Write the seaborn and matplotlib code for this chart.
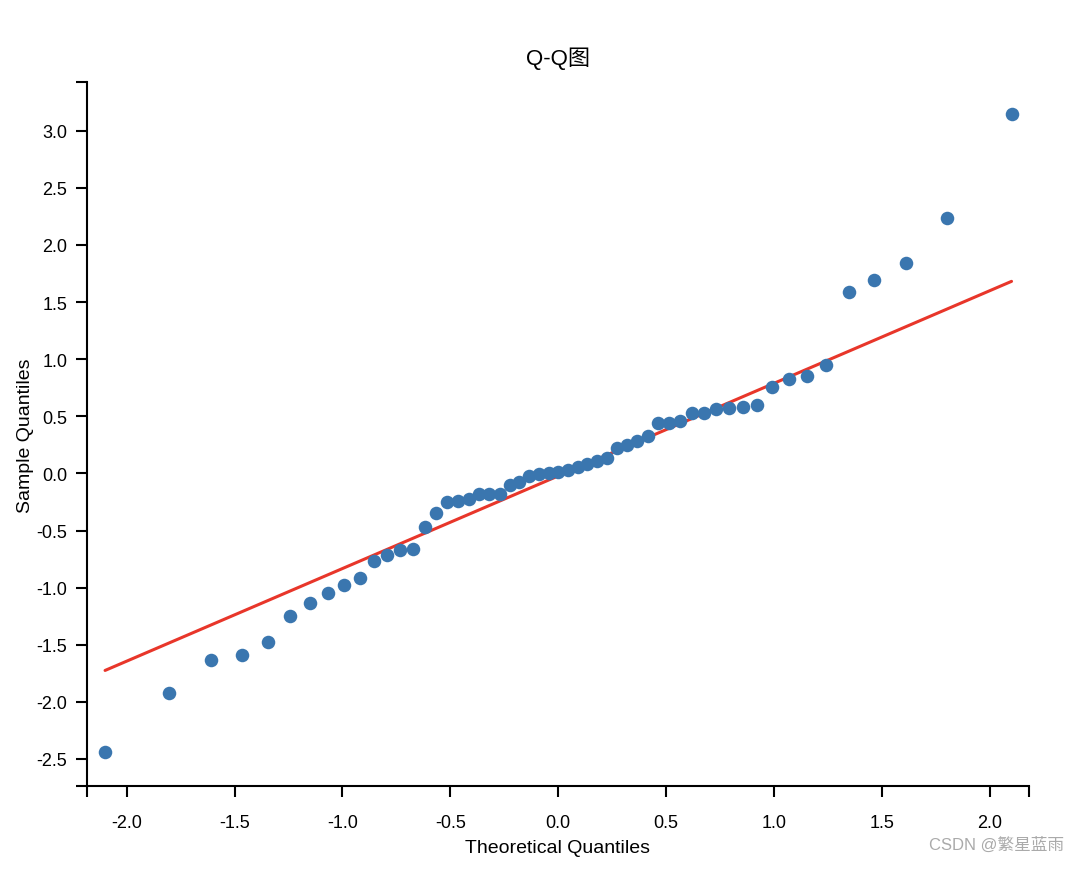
import numpy as np
import pandas as pd
import matplotlib
matplotlib.use("Agg")
import matplotlib.pyplot as plt
from matplotlib.ticker import FormatStrFormatter
import seaborn as sns

# theoretical normal quantiles (x) and sorted sample values (y)
theoretical = [
    -2.100, -1.803, -1.611, -1.465, -1.345, -1.242, -1.150, -1.068, -0.992, -0.921,
    -0.854, -0.792, -0.732, -0.674, -0.619, -0.566, -0.514, -0.464, -0.414, -0.366,
    -0.319, -0.272, -0.226, -0.180, -0.134, -0.090, -0.045, 0.000, 0.045, 0.090,
    0.134, 0.180, 0.226, 0.272, 0.319, 0.366, 0.414, 0.464, 0.514, 0.566,
    0.619, 0.674, 0.732, 0.792, 0.854, 0.921, 0.992, 1.068, 1.150, 1.242,
    1.345, 1.465, 1.611, 1.803, 2.100,
]
sample = [
    -2.44, -1.92, -1.63, -1.59, -1.475, -1.247, -1.134, -1.046, -0.976, -0.915,
    -0.765, -0.713, -0.669, -0.660, -0.468, -0.345, -0.249, -0.240, -0.222, -0.178,
    -0.178, -0.178, -0.100, -0.074, -0.021, -0.004, 0.005, 0.014, 0.030, 0.058,
    0.084, 0.110, 0.137, 0.220, 0.250, 0.285, 0.330, 0.443, 0.443, 0.460,
    0.530, 0.530, 0.566, 0.574, 0.583, 0.600, 0.757, 0.828, 0.855, 0.950,
    1.590, 1.695, 1.844, 2.237, 3.148,
]
# reference line: y = intercept + slope * x
fit_intercept = -0.022
fit_slope = 0.811

x_ticks = [-2.0, -1.5, -1.0, -0.5, 0.0, 0.5, 1.0, 1.5, 2.0]
y_ticks = [-2.5, -2.0, -1.5, -1.0, -0.5, 0.0, 0.5, 1.0, 1.5, 2.0, 2.5, 3.0]
x_range = (-2.185, 2.181)
y_range = (-2.739, 3.424)

df = pd.DataFrame({"theoretical": theoretical, "sample": sample})
line_x = np.array([min(theoretical), max(theoretical)])
line_df = pd.DataFrame({"x": line_x, "y": fit_intercept + fit_slope * line_x})

sns.set_style("ticks")
plt.rcParams["font.family"] = ["Liberation Sans", "Noto Sans CJK SC", "DejaVu Sans"]
plt.rcParams["axes.unicode_minus"] = False

fig = plt.figure(figsize=(10.8, 8.7), dpi=100)
ax = fig.add_axes([0.0803, 0.0951, 0.9528 - 0.0803, 0.9043 - 0.0951])

sns.lineplot(data=line_df, x="x", y="y", ax=ax, color="#e8362a",
             linewidth=2.2, zorder=2)
sns.scatterplot(data=df, x="theoretical", y="sample", ax=ax, color="#3a76af",
                s=95, linewidth=0, zorder=3)

ax.set_xlim(*x_range)
ax.set_ylim(*y_range)
ax.set_xticks(x_ticks)
ax.set_yticks(y_ticks)
# end ticks like a d3 axis domain
ax.set_xticks(list(x_range), minor=True)
ax.set_yticks(list(y_range), minor=True)
ax.xaxis.set_major_formatter(FormatStrFormatter("%.1f"))
ax.yaxis.set_major_formatter(FormatStrFormatter("%.1f"))
ax.tick_params(which="both", length=8, width=1.5, color="black",
               labelsize=13, labelcolor="black")
ax.tick_params(axis="x", pad=12)
ax.tick_params(axis="y", pad=6)

for side in ["top", "right"]:
    ax.spines[side].set_visible(False)
for side in ["left", "bottom"]:
    ax.spines[side].set_linewidth(1.5)
    ax.spines[side].set_color("black")

ax.set_xlabel("Theoretical Quantiles", fontsize=14, color="black", labelpad=6)
ax.set_ylabel("Sample Quantiles", fontsize=14, color="black", labelpad=2)
ax.set_title("Q-Q图", fontsize=16, color="black", pad=13)

fig.text(0.985, 0.02, "CSDN @繁星蓝雨", ha="right", va="bottom",
         fontsize=12, color="#aaaaaa")

fig.savefig("out.png", dpi=100)
